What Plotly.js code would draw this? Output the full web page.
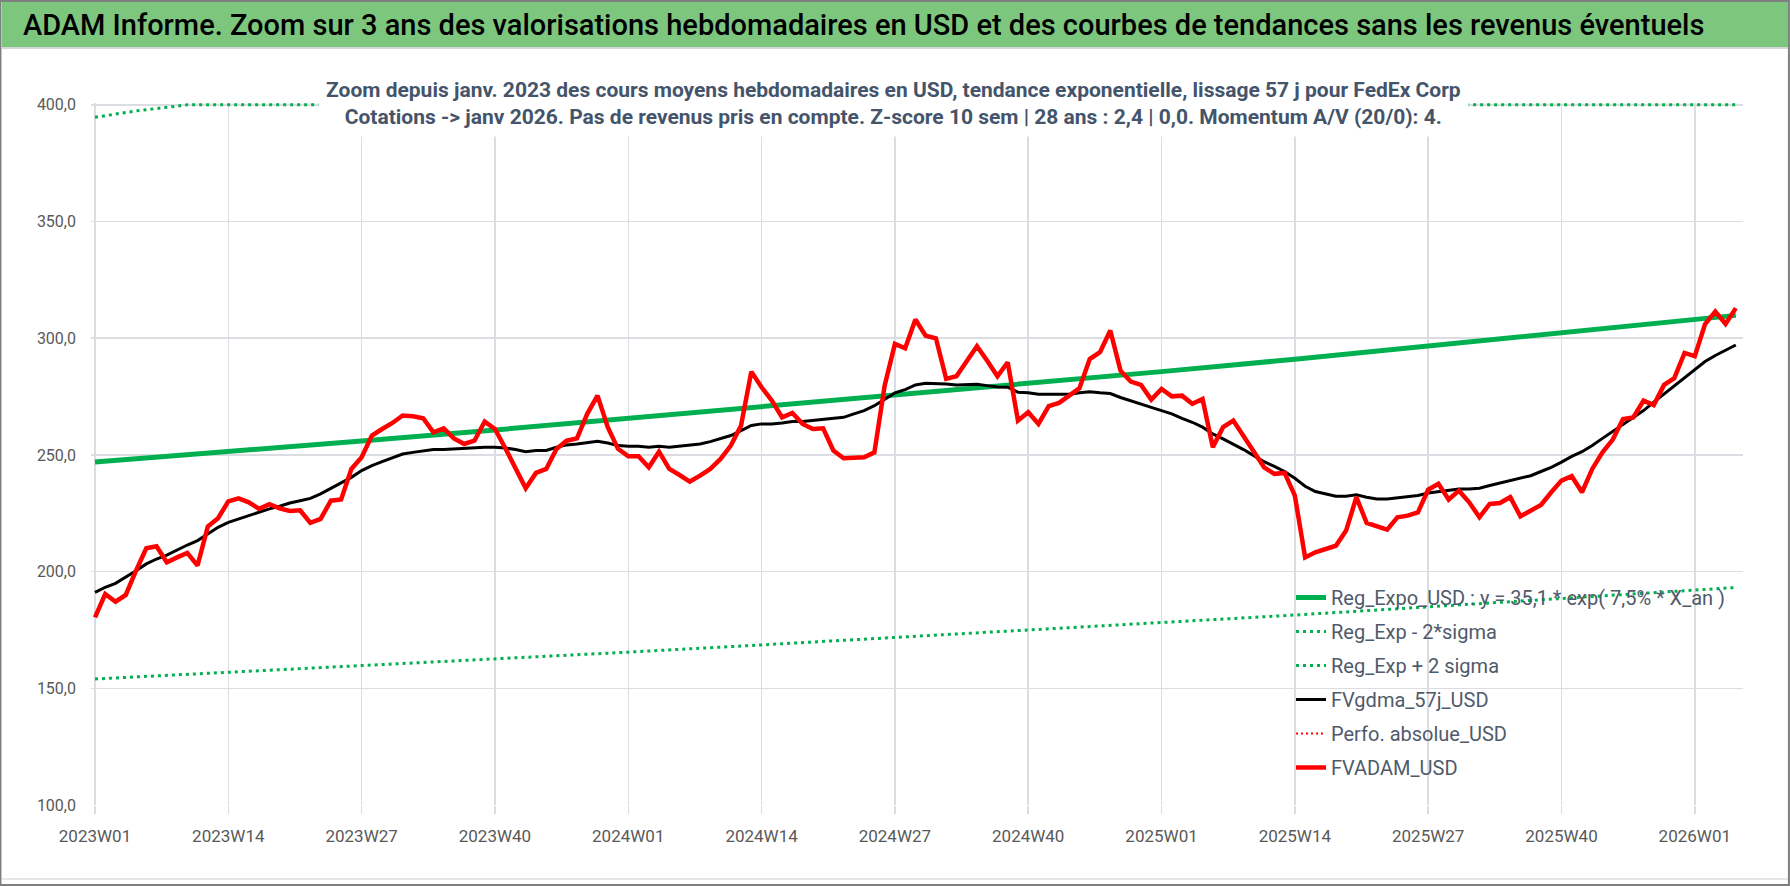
<!DOCTYPE html>
<html>
<head>
<meta charset="utf-8">
<script src="https://cdn.plot.ly/plotly-3.0.1.min.js"></script>
<style>
  html, body { margin: 0; padding: 0; background: #fff; }
  #chart { width: 1790px; height: 886px; }
</style>
</head>
<body>
<div id="chart"></div>
<script>
// week labels 2023W01 .. 2026W05
var years = [2023, 2024, 2025, 2026];
var weeksPerYear = [52, 52, 52, 5];
var weeks = [];
years.forEach((yr, i) => {
    for (var w = 1; w <= weeksPerYear[i]; w++) weeks.push(yr + 'W' + (w < 10 ? '0' + w : w));
});
var tickWeeks = weeks.filter((d, i) => i % 13 == 0);

// FVADAM_USD, weekly average price
var fvadam = [
    180.4, 190.4, 187.1, 190.0, 200.4, 210.0, 210.9, 204.0, 206.1, 208.0,
    202.6, 219.3, 222.9, 230.1, 231.4, 229.7, 226.9, 228.9, 227.1, 226.0,
    226.3, 220.9, 222.6, 230.4, 230.9, 244.0, 249.0, 258.3, 261.1, 263.7,
    266.9, 266.6, 265.7, 259.7, 261.4, 257.1, 254.7, 256.1, 264.3, 261.1,
    253.0, 244.0, 235.7, 242.3, 244.0, 252.6, 256.1, 257.1, 267.6, 275.4,
    261.9, 252.6, 249.4, 249.4, 244.7, 251.4, 244.0, 241.4, 238.6, 241.1,
    244.0, 248.3, 254.0, 262.6, 285.7, 279.0, 273.3, 266.1, 268.0, 263.3,
    261.1, 261.4, 251.9, 248.6, 248.6, 249.0, 251.1, 279.7, 297.6, 295.7,
    308.0, 301.1, 300.0, 282.6, 283.7, 290.4, 296.6, 290.4, 283.7, 289.7,
    264.7, 268.3, 263.3, 270.9, 272.3, 275.4, 278.6, 291.1, 294.0, 303.3,
    286.1, 281.4, 280.0, 273.7, 278.3, 275.1, 275.4, 271.9, 274.0, 253.3,
    261.9, 264.7, 258.3, 251.9, 244.7, 241.9, 242.3, 232.6, 206.1, 208.3,
    209.5, 211.1, 217.6, 231.9, 220.9, 219.7, 218.0, 223.3, 224.0, 225.4,
    235.1, 237.6, 230.9, 234.7, 229.7, 223.3, 229.0, 229.4, 231.9, 223.7,
    226.1, 228.6, 234.0, 239.0, 240.9, 234.0, 244.0, 251.1, 256.6, 265.4,
    266.1, 273.3, 271.4, 280.0, 282.9, 293.7, 292.3, 306.1, 311.4, 306.1,
    312.9
];

// FVgdma_57j_USD, smoothed
var fvgdma = [
    191.1, 193.3, 195.0, 197.6, 200.4, 203.3, 205.4, 207.1, 209.4, 211.4,
    213.3, 216.1, 219.0, 221.1, 222.6, 224.0, 225.4, 226.9, 228.0, 229.4,
    230.4, 231.4, 233.3, 235.7, 238.0, 240.4, 243.3, 245.4, 247.1, 248.6,
    250.4, 251.1, 251.6, 252.3, 252.3, 252.6, 252.9, 252.9, 253.3, 253.3,
    253.0, 252.3, 251.4, 251.9, 251.9, 253.3, 254.3, 254.7, 255.4, 255.9,
    255.1, 254.0, 253.7, 253.7, 253.3, 253.7, 253.3, 253.7, 254.0, 254.7,
    255.7, 256.9, 258.3, 260.4, 262.6, 263.3, 263.3, 263.7, 264.3, 264.3,
    264.7, 265.1, 265.4, 266.1, 267.6, 269.0, 271.1, 274.0, 276.6, 278.0,
    280.0, 280.7, 280.7, 280.4, 280.0, 280.3, 280.3, 279.7, 279.1, 279.0,
    276.9, 276.6, 276.0, 276.0, 276.0, 276.0, 276.6, 277.1, 276.6, 276.3,
    274.6, 273.3, 271.9, 270.4, 269.0, 267.6, 265.7, 264.0, 261.9, 259.0,
    256.9, 254.7, 252.3, 249.7, 247.1, 245.1, 242.9, 240.0, 236.6, 234.3,
    233.3, 232.3, 232.3, 232.9, 231.9, 231.1, 231.1, 231.7, 232.3, 232.6,
    233.7, 234.3, 234.6, 235.4, 235.4, 235.7, 236.9, 238.0, 239.1, 240.0,
    241.1, 242.9, 244.7, 246.9, 249.4, 251.4, 254.0, 257.1, 260.0, 262.9,
    266.1, 269.0, 272.6, 276.1, 279.7, 283.3, 286.9, 290.0, 292.6, 294.7,
    297.1
];

// exponential trend and its bands, read at the tick weeks
var trendWeeks = ['2023W01', '2023W14', '2023W27', '2023W40', '2024W01', '2024W14', '2024W27',
                  '2024W40', '2025W01', '2025W14', '2025W27', '2025W40', '2026W01', '2026W05'];
var regExpo = [247.0, 251.3, 256.0, 260.7, 265.6, 270.5, 275.6, 280.4, 285.7, 291.0, 296.6, 302.4, 308.1, 309.8];
var regLow = [154.0, 156.8, 159.6, 162.5, 165.5, 168.6, 171.8, 174.9, 178.2, 181.4, 184.9, 188.5, 192.1, 193.2];
var upperWeeks = ['2023W01', '2023W05', '2023W10', '2023W14', '2023W27', '2023W40', '2024W01', '2024W14', '2024W27',
                  '2024W40', '2025W01', '2025W14', '2025W27', '2025W40', '2026W01', '2026W05'];
var regHigh = [394.7, 397.4, 400.0, 400.0, 400.0, 400.0, 400.0, 400.0, 400.0, 400.0, 400.0, 400.0, 400.0, 400.0, 400.0, 400.0];

var narrow = 'Roboto, "Liberation Sans", sans-serif';
var green = '#00b050';

var traces = [
    {x: trendWeeks, y: regExpo, name: 'Reg_Expo_USD : y = 35,1 * exp( 7,5% * X_an )', legendgroup: 'a',
     mode: 'lines', line: {color: green, width: 5}},
    {x: trendWeeks, y: regLow, name: 'Reg_Exp - 2*sigma', legendgroup: 'b',
     mode: 'lines', line: {color: green, width: 3, dash: '3px,4px'}},
    {x: upperWeeks, y: regHigh, name: 'Reg_Exp + 2 sigma', legendgroup: 'c',
     mode: 'lines', line: {color: green, width: 3, dash: '3px,4px'}},
    {x: weeks, y: fvgdma, name: 'FVgdma_57j_USD', legendgroup: 'd',
     mode: 'lines', line: {color: '#000000', width: 3}},
    {x: [weeks[0]], y: [null], name: 'Perfo. absolue_USD', legendgroup: 'e',
     mode: 'lines', line: {color: '#ff0000', width: 2, dash: '2px,3px'}},
    {x: weeks, y: fvadam, name: 'FVADAM_USD', legendgroup: 'f',
     mode: 'lines', line: {color: '#ff0000', width: 4.5}}
];

var layout = {
    width: 1790,
    height: 886,
    margin: {l: 91, r: 47, t: 103, b: 81},
    paper_bgcolor: '#ffffff',
    plot_bgcolor: '#ffffff',
    separators: ', ',
    hovermode: false,
    font: {family: narrow, color: '#595959'},
    title: {
        text: 'ADAM Informe. Zoom sur 3 ans des valorisations hebdomadaires en USD et des courbes de tendances sans les revenus éventuels',
        font: {family: narrow, size: 29, color: '#000000', weight: 500},
        x: 0.0128, xref: 'container', xanchor: 'left',
        y: 0.972, yref: 'container', yanchor: 'middle'
    },
    xaxis: {
        type: 'category',
        categoryarray: weeks,
        range: [-0.39, 160.7],
        tickvals: tickWeeks,
        ticktext: tickWeeks,
        showgrid: true,
        gridcolor: '#dcdde3',
        gridwidth: 1.5,
        ticks: 'outside',
        ticklen: 8,
        tickwidth: 1.5,
        tickcolor: '#dcdde3',
        ticklabelstandoff: 8,
        tickfont: {family: narrow, size: 17, color: '#595959'},
        zeroline: false,
        showline: false
    },
    yaxis: {
        range: [100, 400.8],
        tickvals: [100, 150, 200, 250, 300, 350, 400],
        tickformat: '.1f',
        showgrid: true,
        gridcolor: '#dcdde3',
        gridwidth: 1.5,
        ticklabelstandoff: 14,
        tickfont: {family: narrow, size: 16, color: '#595959'},
        zeroline: false,
        showline: false
    },
    legend: {
        x: 0.7264, y: 0.3234, xanchor: 'left', yanchor: 'top',
        bgcolor: 'rgba(0,0,0,0)',
        traceorder: 'grouped',
        tracegroupgap: 5,
        font: {family: narrow, size: 20, color: '#4f5a6a'}
    },
    annotations: [{
        text: 'Zoom depuis janv. 2023 des cours moyens hebdomadaires en USD, tendance exponentielle, lissage 57 j pour FedEx Corp' +
              '<br>Cotations -> janv 2026. Pas de revenus pris en compte. Z-score 10 sem | 28 ans : 2,4 | 0,0. Momentum A/V (20/0): 4.',
        xref: 'paper', yref: 'paper',
        x: 0.486, y: 0.9986, xanchor: 'center', yanchor: 'middle',
        showarrow: false,
        align: 'center',
        bgcolor: '#ffffff',
        borderpad: 7,
        font: {family: narrow, size: 21, color: '#44546a', weight: 'bold'}
    }],
    shapes: [
        // green title band
        {type: 'rect', xref: 'paper', yref: 'paper', layer: 'below',
         x0: -0.0539, x1: 1.0272, y0: 1.0798, y1: 1.1439,
         fillcolor: '#7dc67e', line: {width: 0}},
        {type: 'line', xref: 'paper', yref: 'paper',
         x0: -0.0539, x1: 1.0272, y0: 1.0783, y1: 1.0783,
         line: {color: '#d6d6d6', width: 2}},
        {type: 'line', xref: 'paper', yref: 'paper',
         x0: -0.0539, x1: 1.0272, y0: -0.1054, y1: -0.1054,
         line: {color: '#e6e6e6', width: 2}},
        // outer frame
        {type: 'rect', xref: 'paper', yref: 'paper',
         x0: -0.0548, x1: 1.0278, y0: -0.1140, y1: 1.1453,
         fillcolor: 'rgba(0,0,0,0)', line: {color: '#7f7f7f', width: 2}}
    ]
};

Plotly.newPlot('chart', traces, layout, {displayModeBar: false, staticPlot: true});
</script>
</body>
</html>
